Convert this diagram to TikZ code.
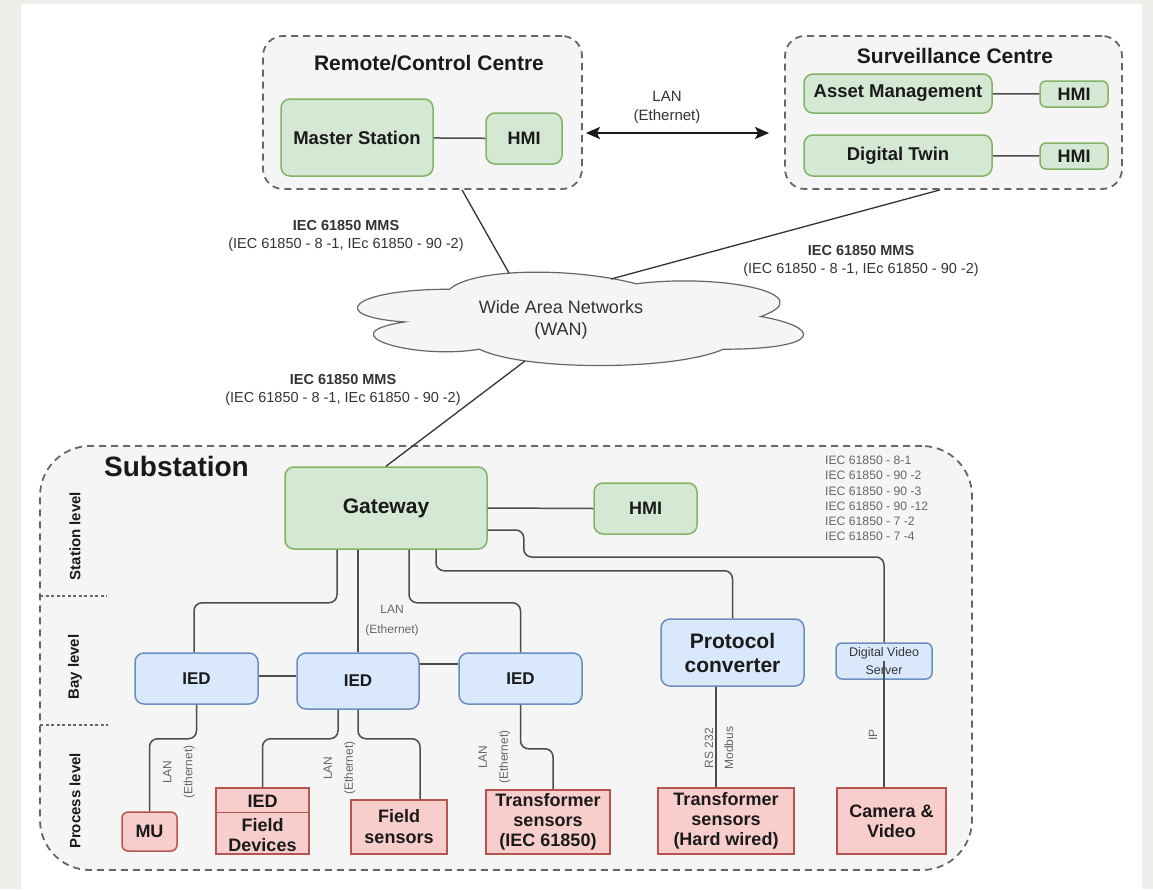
\documentclass[tikz,border=0pt]{standalone}
\usepackage{fontspec}
\setmainfont{Liberation Sans}
\usetikzlibrary{arrows.meta}
\definecolor{bgout}{HTML}{EDEDE9}
\definecolor{contfill}{HTML}{F5F5F5}
\definecolor{contdraw}{HTML}{666666}
\definecolor{gfill}{HTML}{D5E8D4}
\definecolor{gdraw}{HTML}{82B366}
\definecolor{bfill}{HTML}{DAE8FC}
\definecolor{bdraw}{HTML}{6C8EBF}
\definecolor{rfill}{HTML}{F8CECC}
\definecolor{rdraw}{HTML}{B85450}
\definecolor{wirec}{HTML}{4D4D4D}
\definecolor{txt}{HTML}{1A1A1A}
\definecolor{lbl}{HTML}{333333}
\definecolor{lbltwo}{HTML}{666666}
\newcommand{\fz}[2]{\fontsize{#1}{#2}\selectfont}
\begin{document}
\begin{tikzpicture}[x=1pt,y=-1pt,
  box/.style={rectangle, inner sep=0pt, align=center, line width=1.5pt, text=txt},
  gbox/.style={box, fill=gfill, draw=gdraw, rounded corners=9pt},
  bbox/.style={box, fill=bfill, draw=bdraw, rounded corners=9pt},
  rbox/.style={box, fill=rfill, draw=rdraw},
  container/.style={rectangle, inner sep=0pt, draw=contdraw, fill=contfill, dash pattern=on 7pt off 5pt, line width=1.8pt, rounded corners=20pt},
  wire/.style={draw=wirec, line width=1.5pt, rounded corners=8pt},
  mmswire/.style={draw=lbl, line width=1.3pt},
  title/.style={inner sep=0pt, text=txt, font=\fz{21pt}{25pt}\bfseries},
  mms/.style={inner sep=0pt, align=center, text=lbl, font=\fz{14.5pt}{18pt}},
  small/.style={inner sep=0pt, align=center, text=lbltwo, font=\fz{12pt}{20pt}},
  level/.style={inner sep=0pt, rotate=90, text=txt, font=\fz{15pt}{18pt}\bfseries},
  sep/.style={draw=contdraw, line width=1.5pt, dash pattern=on 3pt off 2.5pt},
  cloudline/.style={fill=contfill, draw=contdraw, line width=1.2pt}
]
% background
\fill[bgout] (0,0) rectangle (1153,889);
\fill[white] (21,4) rectangle (1142,889);

% ---------- Remote/Control Centre ----------
\node[container, minimum width=319pt, minimum height=153pt] (remote) at (422.5,112.5) {};
\node[title] (remotetitle) at (429,63) {Remote/Control Centre};
\node[gbox, minimum width=152pt, minimum height=77pt, font=\fz{18.5pt}{22pt}\bfseries] (ms) at (357,137.5) {Master Station};
\node[gbox, minimum width=76pt, minimum height=51pt, font=\fz{18pt}{22pt}\bfseries] (hmione) at (524,138.5) {HMI};
\draw[wire] (ms) -- (hmione);

% ---------- Surveillance Centre ----------
\node[container, minimum width=337pt, minimum height=153pt] (surv) at (953.5,112.5) {};
\node[title] (survtitle) at (955,56) {Surveillance Centre};
\node[gbox, minimum width=188pt, minimum height=39pt, font=\fz{18.5pt}{22pt}\bfseries] (am) at (898,93.5) {Asset Management};
\node[gbox, minimum width=68pt, minimum height=26pt, rounded corners=6pt, font=\fz{18pt}{22pt}\bfseries] (hmia) at (1074,94) {HMI};
\node[gbox, minimum width=188pt, minimum height=41pt, font=\fz{18.5pt}{22pt}\bfseries] (dt) at (898,155.5) {Digital Twin};
\node[gbox, minimum width=68pt, minimum height=26pt, rounded corners=6pt, font=\fz{18pt}{22pt}\bfseries] (hmib) at (1074,156) {HMI};
\draw[wire] (am) -- (hmia);
\draw[wire] (dt) -- (hmib);

% LAN link between centres
\draw[draw=txt, line width=2.2pt, {Stealth[length=14pt,width=12pt,inset=3pt]}-{Stealth[length=14pt,width=12pt,inset=3pt]}]
  ([xshift=3pt,yshift=-20.5pt]remote.east) -- ([xshift=-15pt,yshift=-20.5pt]surv.west);
\node[inner sep=0pt, align=center, text=lbl, font=\fz{15pt}{19pt}] (lantop) at (667,107.5) {LAN\\(Ethernet)};

% ---------- WAN cloud ----------
\begin{scope}[shift={(325,262)}, x=498pt, y=-109pt]
\path[cloudline] (0.25,0.25) .. controls (0.05,0.25) and (0,0.5) .. (0.16,0.55)
  .. controls (0,0.66) and (0.18,0.9) .. (0.31,0.8)
  .. controls (0.4,1) and (0.7,1) .. (0.8,0.8)
  .. controls (1,0.8) and (1,0.6) .. (0.875,0.5)
  .. controls (1,0.3) and (0.8,0.1) .. (0.625,0.2)
  .. controls (0.5,0.05) and (0.3,0.05) .. (0.25,0.25) -- cycle;
\end{scope}
\node[inner sep=0pt, align=center, text=lbl, font=\fz{18pt}{22pt}] (wan) at (561,320) {Wide Area Networks\\(WAN)};
\coordinate (wanA) at (509,273);
\coordinate (wanB) at (611,279);
\coordinate (wanC) at (525,361);

\draw[mmswire] ([xshift=39.5pt]remote.south) -- (wanA);
\draw[mmswire] ([xshift=-13.5pt]surv.south) -- (wanB);

\node[mms] (mmsa) at (346,236) {\textbf{IEC 61850 MMS}\\(IEC 61850 - 8 -1, IEc 61850 - 90 -2)};
\node[mms] (mmsb) at (861,261) {\textbf{IEC 61850 MMS}\\(IEC 61850 - 8 -1, IEc 61850 - 90 -2)};
\node[mms] (mmsc) at (343,390) {\textbf{IEC 61850 MMS}\\(IEC 61850 - 8 -1, IEc 61850 - 90 -2)};

% ---------- Substation ----------
\node[container, rounded corners=50pt, minimum width=932pt, minimum height=424pt] (sub) at (506,658) {};
\node[inner sep=0pt, text=txt, font=\fz{28pt}{32pt}\bfseries] (subtitle) at (176.5,466) {Substation};

\node[level] (lvstation) at (75,536) {Station level};
\node[level] (lvbay) at (75,667) {Bay level};
\node[level] (lvprocess) at (75,801) {Process level};
\draw[sep] (40,596) -- (107,596);
\draw[sep] (40,725) -- (108,725);

\node[small, anchor=north west, align=left, font=\fz{12.2pt}{15.2pt}] (ieclist) at (825,456)
  {IEC 61850 - 8-1\\IEC 61850 - 90 -2\\IEC 61850 - 90 -3\\IEC 61850 - 90 -12\\IEC 61850 - 7 -2\\IEC 61850 - 7 -4};

% station level
\node[gbox, minimum width=202pt, minimum height=82pt, font=\fz{21pt}{25pt}\bfseries] (gw) at (386,508) {Gateway};
\node[gbox, minimum width=103pt, minimum height=51pt, font=\fz{18pt}{22pt}\bfseries] (hmis) at (645.5,508.5) {HMI};
\draw[mmswire] (gw.north) -- (wanC);
\draw[wire] (gw.east) -- (hmis.west);

% bay level
\node[bbox, minimum width=123pt, minimum height=51pt, font=\fz{17pt}{21pt}\bfseries] (iedone) at (196.5,678.5) {IED};
\node[bbox, minimum width=122pt, minimum height=56pt, font=\fz{17pt}{21pt}\bfseries] (iedtwo) at (358,681) {IED};
\node[bbox, minimum width=123pt, minimum height=51pt, font=\fz{17pt}{21pt}\bfseries] (iedthree) at (520.5,678.5) {IED};
\node[bbox, minimum width=143pt, minimum height=67pt, font=\fz{21pt}{24pt}\bfseries] (pc) at (732.5,652.5) {Protocol\\converter};
\node[bbox, minimum width=96pt, minimum height=36pt, rounded corners=6pt, text=lbl, font=\fz{12.5pt}{18pt}] (dvs) at (884,661) {Digital Video\\Server};

\draw[wire] ([yshift=2.5pt]iedone.east) -- ([yshift=2.5pt]iedone.east -| iedtwo.west);
\draw[wire] ([yshift=14.5pt]iedthree.west) -- ([yshift=14.5pt]iedthree.west -| iedtwo.east);

\draw[wire] ([xshift=-49pt]gw.south) -- ++(0,53) -| ([xshift=-2.5pt]iedone.north);
\draw[wire] (iedtwo.north) -- (iedtwo.north |- gw.south);
\draw[wire] ([xshift=23pt]gw.south) -- ++(0,53) -| (iedthree.north);
\draw[wire] ([xshift=50pt]gw.south) -- ++(0,21) -| (pc.north);
\draw[wire] ([yshift=-22pt]gw.east) -- ++(36,0) -- ++(0,27) -| (dvs.north);
\node[small] (langw) at (392,620.5) {LAN\\(Ethernet)};

% process level
\node[rbox, minimum width=55pt, minimum height=39pt, rounded corners=6pt, font=\fz{18pt}{21pt}\bfseries] (mu) at (149.5,831.5) {MU};
\node[rbox, minimum width=93pt, minimum height=66pt] (fdev) at (262.5,821) {};
\draw[draw=rdraw, line width=1.5pt] ([yshift=-25pt]fdev.north west) -- ([yshift=-25pt]fdev.north east);
\node[inner sep=0pt, text=txt, font=\fz{18pt}{21pt}\bfseries] (fdevied) at (262.5,801) {IED};
\node[inner sep=0pt, align=center, text=txt, font=\fz{18pt}{20pt}\bfseries] (fdevtxt) at (262.5,835) {Field\\Devices};
\node[rbox, minimum width=96pt, minimum height=54pt, font=\fz{18pt}{21pt}\bfseries] (fs) at (399,827) {Field\\sensors};
\node[rbox, minimum width=124pt, minimum height=64pt, font=\fz{18pt}{20pt}\bfseries] (tsone) at (548,822) {Transformer\\sensors\\(IEC 61850)};
\node[rbox, minimum width=136pt, minimum height=66pt, font=\fz{18pt}{20pt}\bfseries] (tstwo) at (726,821) {Transformer\\sensors\\(Hard wired)};
\node[rbox, minimum width=109pt, minimum height=66pt, font=\fz{18pt}{20pt}\bfseries] (cam) at (891.5,821) {Camera \&\\Video};

\draw[wire] (iedone.south) -- ++(0,34) -| (mu.north);
\draw[wire] ([xshift=-20pt]iedtwo.south) -- ++(0,29) -| (fdev.north);
\draw[wire] (iedtwo.south) -- ++(0,29) -| ([xshift=21pt]fs.north);
\draw[wire] (iedthree.south) -- ++(0,44) -| ([xshift=5pt]tsone.north);
\draw[wire] ([xshift=-16.5pt]pc.south) -- ([xshift=-10pt]tstwo.north);
\draw[wire] (dvs.center) -- ([xshift=-7.5pt]cam.north);

\node[small, rotate=90, font=\fz{12pt}{21pt}] (lanmu) at (179,772) {LAN\\(Ethernet)};
\node[small, rotate=90, font=\fz{12pt}{21pt}] (lanfd) at (339.5,768) {LAN\\(Ethernet)};
\node[small, rotate=90, font=\fz{12pt}{21pt}] (lants) at (494.5,757) {LAN\\(Ethernet)};
\node[small, rotate=90, font=\fz{12pt}{20pt}] (rsmod) at (719,748) {RS 232\\Modbus};
\node[small, rotate=90, font=\fz{12pt}{20pt}] (iplbl) at (873,735) {IP};
\end{tikzpicture}
\end{document}
